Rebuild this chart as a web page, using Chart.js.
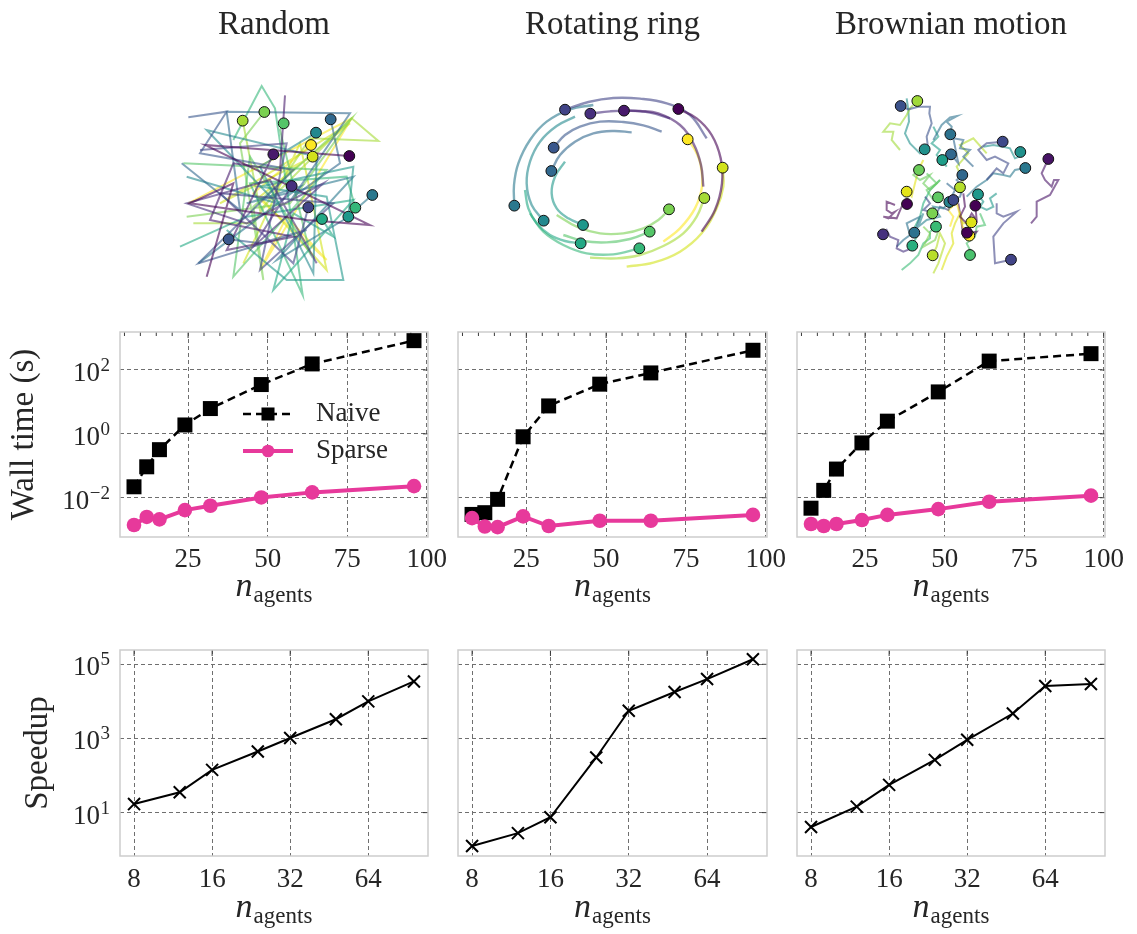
<!DOCTYPE html>
<html>
<head>
<meta charset="utf-8">
<script src="https://cdn.jsdelivr.net/npm/chart.js@4.4.1/dist/chart.umd.min.js"></script>
<style>
  body { margin: 0; background: #fff; }
  #fig { position: relative; width: 1137px; height: 934px; overflow: hidden; background: #fff; }
</style>
</head>
<body>
<div id="fig"></div>
<script>
// ---- data ----
const scenarios = ['Random', 'Rotating ring', 'Brownian motion'];
const nAgents = [8, 12, 16, 24, 32, 48, 64, 96];

const naiveRandom = [0.022, 0.093, 0.32, 1.9, 6.2, 35, 155, 830];
const sparseRandom = [0.0014, 0.0025, 0.0021, 0.0041, 0.0056, 0.0102, 0.0147, 0.023];
const naiveRing = [0.003, 0.0034, 0.0089, 0.81, 7.5, 36, 81, 415];
const sparseRing = [0.0023, 0.00125, 0.0012, 0.0026, 0.0013, 0.0019, 0.0019, 0.0029];
const naiveBrownian = [0.0047, 0.017, 0.079, 0.52, 2.5, 20.6, 190, 325];
const sparseBrownian = [0.0015, 0.0013, 0.0015, 0.0020, 0.0029, 0.0044, 0.0075, 0.0116];

const speedupRandom = [17, 35.5, 142, 445, 1030, 3300, 10000, 34500];
const speedupRing = [1.26, 2.8, 7.5, 307, 5600, 17900, 40000, 137000];
const speedupBrownian = [4.1, 14.5, 56, 265, 920, 4700, 26000, 29500];

const nTicksLinear = [25, 50, 75, 100];
const nMinorTop = [5, 10, 15, 20, 30, 35, 40, 45, 55, 60, 65, 70, 80, 85, 90, 95];
const nTicksLog = [8, 16, 32, 64];
const wallTicks = [1e-2, 1, 1e2];
const speedTicks = [1e1, 1e3, 1e5];

// agent tails (arena units), last point = current position
const viridis16 = ['#440154', '#481a6c', '#472f7d', '#414487', '#39568c', '#31688e', '#2a788e', '#23888e',
  '#1f988b', '#22a884', '#35b779', '#54c568', '#7ad151', '#a5db36', '#d2e21b', '#fde725'];

const randomPaths = [
  [[14, 62], [22, 34], [9, 40], [44, 45], [63, 46.5], [13.5, 22.5], [56.8, 25.8]],
  [[37.5, 7.6], [36, 30], [22, 28], [15, 45], [40, 50], [20, 54], [34, 25.3]],
  [[47, 58], [33, 33], [8, 40], [26, 46], [49, 34], [28, 53], [39.5, 34.8]],
  [[12, 24], [38, 22], [30, 60], [52, 40], [18, 37], [40, 58], [44.5, 41.2]],
  [[8.5, 14.2], [20, 12.5], [12, 25], [40, 30], [11.5, 58], [44, 48], [30, 52], [20.6, 50.8]],
  [[6.5, 28], [24, 42], [20, 12.5], [57, 13], [40, 38], [54, 28], [51.2, 14.8]],
  [[11.5, 58], [42, 35], [26, 40], [58, 32], [35, 57], [55, 45], [63.7, 37.5]],
  [[8, 32], [35, 40], [14, 18], [47, 26], [46, 61], [30, 29], [46.8, 18.8]],
  [[20, 48], [38, 63], [55, 63], [50, 38], [30, 35], [58, 29], [56.5, 44.0]],
  [[6, 53], [26, 44], [58, 39], [34, 66], [40, 43], [52, 50], [48.6, 44.7]],
  [[22, 21], [30.5, 4.8], [34.5, 11.5], [42.8, 67.5], [27, 34], [56, 32], [58.6, 41.3]],
  [[7, 28], [50, 30], [22, 62], [27, 26], [45, 55], [36, 18], [37.1, 16.0]],
  [[8, 44], [39, 40], [57.5, 14.5], [28, 41], [31, 63], [24, 22], [31.3, 12.6]],
  [[10, 46], [28, 46], [45, 20.5], [65.5, 21.3], [57.5, 14.5], [30, 42], [24.8, 15.2]],
  [[25, 58], [42, 22], [50, 60], [30, 38], [57, 16], [18, 40], [45.8, 26.0]],
  [[8.5, 40], [57.5, 14.5], [30, 60], [38, 44], [50, 57], [28, 37], [45.3, 22.5]]
];

const ringPaths = [
  [[63.5, 45.5], [67.5, 39], [69.6, 31], [69.2, 23.5], [66.5, 16.5], [62, 11.5], [56.5, 8.7]],
  [[64, 32], [63.3, 25.5], [61, 19], [57, 13.5], [50.5, 10], [45, 9.3], [40.2, 9.2]],
  [[54, 11.5], [48, 9.8], [42, 9.2], [36, 9.4], [30.1, 10.1]],
  [[65, 17.5], [60, 10.5], [53, 7], [45, 5.6], [37, 5.4], [29.5, 6.6], [22.5, 8.9]],
  [[51.5, 15.5], [46, 13.6], [40, 12.6], [33, 12.5], [27, 14], [22.5, 16.5], [19.1, 20.3]],
  [[42.5, 15.7], [37, 15.3], [31, 16], [25.5, 18.5], [21, 22.5], [18.4, 27.3]],
  [[31, 7.5], [24, 8.8], [17, 12.5], [12, 18], [8.5, 25], [7.2, 31.5], [7.3, 37.7]],
  [[25.5, 11], [20, 13.8], [15, 18.5], [12, 24.5], [11, 31], [12.5, 37.5], [16.1, 42.2]],
  [[22.5, 24.5], [19.5, 29], [18.5, 34], [20, 38.5], [23.5, 41.5], [27.9, 43.5]],
  [[10.5, 33], [11.5, 38.5], [14, 43], [18, 46.5], [22.5, 48.3], [27.2, 49.0]],
  [[12, 40], [16, 45.5], [22, 49.5], [29, 52], [37, 52.3], [44.8, 50.5]],
  [[22, 46.5], [28, 48.3], [35, 48.7], [42, 47.7], [47.9, 45.5]],
  [[20, 40.5], [26, 44], [33, 46], [40, 46], [46, 44.5], [50.5, 42], [53.7, 38.8]],
  [[30, 53.3], [38, 53.5], [45, 52.5], [52, 49.8], [58, 46], [62, 41], [64.3, 35.4]],
  [[41, 56], [49, 54.8], [57, 51.5], [63.5, 46], [68, 38.5], [70, 32], [69.8, 26.3]],
  [[52, 48.5], [57, 44.5], [61.5, 38.5], [63.6, 32], [63.2, 25.5], [61.5, 21], [59.3, 17.8]]
];

const brownianColors = ['#3b528b', '#a0da39', '#2c728e', '#21918c', '#31688e', '#1f9e89', '#3e4989', '#21918c',
  '#2a788e', '#471365', '#6ccd5a', '#31688e', '#b5de2b', '#e5e419', '#440154', '#5ec962', '#26828e', '#3e4989',
  '#1f988b', '#440154', '#7ad151', '#dde318', '#3bbb75', '#fde725', '#440154', '#46307e', '#2c728e', '#29af7f',
  '#b8de29', '#4ac16d', '#414487'];

const brownianPaths = [
  [[23.5, 21], [23, 17], [24.5, 13], [23.8, 10], [24, 8], [20.5, 8], [17.5, 8.8], [15.2, 7.8]],
  [[15, 21], [12.5, 18], [13, 15.5], [10, 15.5], [12, 13], [15, 13.5], [17, 10.5], [18, 8.5], [20.2, 6.3]],
  [[25, 18], [27.5, 13.5], [30, 11.2], [32.2, 10.8], [29, 12.5], [30.5, 14], [30.1, 16.3]],
  [[17, 5.5], [17.5, 9], [17.7, 12.5], [16.5, 16], [18, 19], [21, 22], [22.4, 20.8]],
  [[37, 26], [34, 23], [36, 21], [33, 20.5], [34, 18], [31, 17.5], [32.5, 25], [30.3, 22.3]],
  [[25, 14], [26.5, 17], [24.5, 19], [27, 21], [26, 22.5], [29, 26], [27.7, 24.0]],
  [[41, 30], [44, 26.5], [46, 28], [47.5, 25], [43.5, 23], [41, 24], [38.5, 21], [41, 19], [45.8, 18.5]],
  [[40, 20], [43, 19.5], [46, 20], [48, 20.5], [49.5, 23.5], [52, 22.5], [51.1, 21.6]],
  [[35, 35], [38, 32], [41, 30], [43, 28], [46, 28.5], [48, 29], [49.5, 27], [52.6, 26.4]],
  [[54.3, 43], [56, 41], [56, 36.5], [60, 34.5], [62.5, 30], [61.2, 30], [60.5, 32], [58.5, 30], [57.5, 28], [59.5, 23.7]],
  [[27, 30], [24, 33], [22, 31], [24, 28.5], [21, 30], [19, 28.5], [20.7, 27.0]],
  [[29, 31], [31.5, 33], [30, 36], [33, 35], [34, 32], [32, 30], [33.7, 28.5]],
  [[41, 22], [37, 17.5], [33, 19.5], [35.5, 22], [32, 26], [34, 30], [33.0, 32.2]],
  [[22, 24], [20.5, 27], [19.5, 31], [18.5, 35], [17, 33.5]],
  [[13.5, 37.5], [11, 36.5], [11, 39], [12.5, 40], [13.5, 39.5], [11.5, 41.5], [10, 41], [14, 41.5], [15.5, 38], [17.1, 37.2]],
  [[23, 28], [26, 31], [23, 33], [25, 36], [28, 34], [26.4, 35.2]],
  [[22, 40], [20.5, 44], [23, 42], [27, 41], [25, 38], [28, 38.5], [29.8, 36.6]],
  [[22.5, 35], [24, 37], [22, 39], [26, 40], [27, 38], [29.5, 39], [31.0, 36.0]],
  [[44, 34], [42, 35.5], [43, 38], [41, 39], [39, 38], [40, 36.5], [38.4, 34.3]],
  [[34, 34], [34.5, 38], [33, 41], [35, 43], [36.5, 40], [38, 42], [37.6, 37.7]],
  [[22, 44], [24, 46], [22, 50], [25.5, 48], [27, 44], [25.5, 43], [24.7, 40.0]],
  [[27.5, 57], [29, 53], [31, 49], [30.5, 46], [31.5, 43], [33, 40], [34, 43], [36.4, 42.7]],
  [[15.5, 57], [18, 55], [20.5, 52.5], [22, 49], [24, 47.5], [24, 45.5], [25.8, 44.0]],
  [[30, 44], [31, 41], [29.5, 39], [32, 37], [33, 40.5], [33.8, 44], [35.8, 46.7]],
  [[32.5, 37], [33, 40], [33.5, 43], [34, 47], [36, 48], [38, 45.5], [35.1, 45.8]],
  [[18.5, 50.5], [16, 51.5], [14, 50.5], [14.5, 48], [12, 47], [11, 45], [9.9, 46.3]],
  [[14, 50], [16, 48], [18, 46.5], [17, 43], [21, 41], [20, 44], [19.3, 45.8]],
  [[27, 30], [24, 33], [22, 37], [21, 41], [19.5, 44], [20, 47], [18.7, 49.7]],
  [[25, 58], [26.5, 55], [27.5, 52], [28.5, 49], [27, 46], [26, 50], [24.8, 52.6]],
  [[39, 40], [40.5, 43.5], [38, 44], [37.5, 47], [35, 49], [36, 51], [36.0, 52.5]],
  [[44, 37], [44, 40], [46, 41], [50, 39.5], [46, 43], [43, 47], [43.5, 55], [48.3, 53.9]]
];

// ---- style ----
const FONT = '"Liberation Serif", "Times New Roman", serif';
const TEXT = '#262626';
const GRID = '#6f6f6f';
const FRAME = '#cdcdcd';
const PINK = '#e7399b';

function fade(hex, a) {
  const n = parseInt(hex.slice(1), 16);
  return `rgba(${n >> 16},${(n >> 8) & 255},${n & 255},${a})`;
}

function expLabel(v) {
  const e = Math.round(Math.log10(v));
  return e < 0 ? '\u2212' + (-e) : String(e);
}

// frame, inward ticks and all text for one panel
const decor = {
  id: 'decor',
  beforeDatasetsDraw(chart, args, o) {
    if (!o.frame) return;
    const { ctx, chartArea: a, scales: { x, y } } = chart;
    ctx.save();
    ctx.strokeStyle = '#3a3a3a';
    ctx.lineWidth = 1;
    const seg = (x0, y0, x1, y1) => { ctx.beginPath(); ctx.moveTo(x0, y0); ctx.lineTo(x1, y1); ctx.stroke(); };
    (o.minorTop || []).forEach(v => { const px = x.getPixelForValue(v); seg(px, a.top, px, a.top + 4); });
    o.xTicks.forEach(v => { const px = x.getPixelForValue(v); seg(px, a.top, px, a.top + 6); });
    o.yTicks.forEach(v => { const py = y.getPixelForValue(v); seg(a.right - 5, py, a.right, py); });
    ctx.strokeStyle = FRAME;
    ctx.lineWidth = 1.5;
    ctx.strokeRect(a.left, a.top, a.right - a.left, a.bottom - a.top);
    ctx.restore();
  },
  afterDraw(chart, args, o) {
    const { ctx, chartArea: a, scales: { x, y } } = chart;
    ctx.save();
    ctx.fillStyle = TEXT;
    ctx.textBaseline = 'alphabetic';

    if (o.title) {
      ctx.font = `33px ${FONT}`;
      ctx.textAlign = 'center';
      ctx.fillText(o.title, chart.width / 2, o.titleY);
    }
    if (o.xTicks) {
      ctx.font = `27px ${FONT}`;
      ctx.textAlign = 'center';
      o.xTicks.forEach(v => ctx.fillText(String(v), x.getPixelForValue(v), a.bottom + o.xLabelDy));
    }
    if (o.yLabels) {
      const right = a.left - 10;
      o.yTicks.forEach(v => {
        const py = y.getPixelForValue(v) + 11;
        const e = expLabel(v);
        ctx.font = `19px ${FONT}`;
        const ew = ctx.measureText(e).width;
        ctx.textAlign = 'left';
        ctx.fillText(e, right - ew, py - 10);
        ctx.font = `27px ${FONT}`;
        ctx.textAlign = 'right';
        ctx.fillText('10', right - ew - 0.5, py);
      });
    }
    if (o.yTitle) {
      ctx.save();
      ctx.translate(o.yTitleX, (a.top + a.bottom) / 2);
      ctx.rotate(-Math.PI / 2);
      ctx.font = `33px ${FONT}`;
      ctx.textAlign = 'center';
      ctx.fillText(o.yTitle, 0, 0);
      ctx.restore();
    }
    if (o.xTitle) {
      const base = a.bottom + o.xTitleDy;
      ctx.font = `italic 34px ${FONT}`;
      const nw = ctx.measureText('n').width;
      ctx.font = `23px ${FONT}`;
      const sw = ctx.measureText('agents').width;
      const x0 = (a.left + a.right) / 2 - (nw + sw + 1) / 2;
      ctx.textAlign = 'left';
      ctx.font = `italic 34px ${FONT}`;
      ctx.fillText('n', x0, base);
      ctx.font = `23px ${FONT}`;
      ctx.fillText('agents', x0 + nw + 1, base + 6);
    }
    if (o.legend) {
      // legend entries mirror the line datasets' own styles
      const L = o.legend;
      chart.data.datasets.forEach((ds, i) => {
        const ly = a.top + L.dy + i * L.gap;
        const lx = a.left + L.dx;
        ctx.save();
        ctx.strokeStyle = ds.borderColor;
        ctx.lineWidth = ds.borderWidth;
        ctx.setLineDash(ds.borderDash || []);
        ctx.beginPath();
        ctx.moveTo(lx, ly);
        ctx.lineTo(lx + L.len, ly);
        ctx.stroke();
        ctx.setLineDash([]);
        ctx.fillStyle = ds.backgroundColor;
        Chart.helpers.drawPoint(ctx, { pointStyle: ds.pointStyle, radius: ds.pointRadius * 0.87, rotation: 0, borderWidth: 0 }, lx + L.len / 2, ly);
        ctx.restore();
        ctx.font = `27px ${FONT}`;
        ctx.textAlign = 'left';
        ctx.textBaseline = 'middle';
        ctx.fillText(ds.label, lx + L.textDx, ly);
        ctx.textBaseline = 'alphabetic';
      });
    }
    ctx.restore();
  }
};

// canvas whose chart area lands exactly on box (page coordinates)
function place(box, pad) {
  const c = document.createElement('canvas');
  const w = box.r - box.l + pad.l + pad.r;
  const h = box.b - box.t + pad.t + pad.b;
  c.width = w;
  c.height = h;
  c.style.cssText = `position:absolute;left:${box.l - pad.l}px;top:${box.t - pad.t}px;width:${w}px;height:${h}px;`;
  document.getElementById('fig').appendChild(c);
  return c;
}

function axis(type, min, max, ticks, fit) {
  return {
    type, min, max,
    afterBuildTicks: s => { s.ticks = ticks.map(v => ({ value: v })); },
    afterFit: fit,
    ticks: { display: false },
    grid: { color: GRID, lineWidth: 1, drawTicks: false },
    border: { display: false, dash: [4, 3] }
  };
}

function baseOptions(pad, scales, decorOpts) {
  return {
    responsive: false,
    animation: false,
    events: [],
    layout: { autoPadding: false, padding: { left: 0, top: pad.t, right: pad.r, bottom: 0 } },
    scales,
    plugins: { legend: { display: false }, tooltip: { enabled: false }, decor: decorOpts }
  };
}

function timePanel(box, pad, naive, sparse, extra) {
  const canvas = place(box, pad);
  new Chart(canvas, {
    type: 'line',
    data: {
      datasets: [
        {
          label: 'Naive', data: nAgents.map((n, i) => ({ x: n, y: naive[i] })),
          borderColor: '#000', backgroundColor: '#000', borderWidth: 2.5, borderDash: [8, 5],
          pointStyle: 'rect', pointRadius: 10.6, pointBorderWidth: 0, order: 1, clip: false
        },
        {
          label: 'Sparse', data: nAgents.map((n, i) => ({ x: n, y: sparse[i] })),
          borderColor: PINK, backgroundColor: PINK, borderWidth: 4,
          pointStyle: 'circle', pointRadius: 7.3, pointBorderWidth: 0, order: 0, clip: false
        }
      ]
    },
    options: baseOptions(pad, {
      x: axis('linear', 3.6, 100.4, nTicksLinear, s => { s.height = pad.b; }),
      y: axis('logarithmic', Math.pow(10, -3.23), Math.pow(10, 3.19), wallTicks, s => { s.width = pad.l; })
    }, Object.assign({
      frame: true, xTicks: nTicksLinear, minorTop: nMinorTop, yTicks: wallTicks,
      xLabelDy: 30, xTitle: true, xTitleDy: 59
    }, extra)),
    plugins: [decor]
  });
}

function speedPanel(box, pad, speed, extra) {
  const canvas = place(box, pad);
  new Chart(canvas, {
    type: 'line',
    data: {
      datasets: [{
        label: 'Speedup', data: nAgents.map((n, i) => ({ x: n, y: speed[i] })),
        borderColor: '#000', backgroundColor: '#000', borderWidth: 2,
        pointStyle: 'crossRot', pointRadius: 8.5, pointBorderWidth: 2, pointBorderColor: '#000', clip: false
      }]
    },
    options: baseOptions(pad, {
      x: axis('logarithmic', Math.pow(2, 2.82), Math.pow(2, 6.765), nTicksLog, s => { s.height = pad.b; }),
      y: axis('logarithmic', Math.pow(10, -0.17), Math.pow(10, 5.386), speedTicks, s => { s.width = pad.l; })
    }, Object.assign({
      frame: true, xTicks: nTicksLog, yTicks: speedTicks,
      xLabelDy: 31, xTitle: true, xTitleDy: 61
    }, extra)),
    plugins: [decor]
  });
}

// agent tails as fading polylines, current positions as ringed dots on top
function trajChart(box, pad, paths, colors, lim, look, title) {
  const canvas = place(box, pad);
  const datasets = paths.map((p, i) => ({
    data: p.map(([x, y]) => ({ x, y })),
    showLine: true, borderColor: fade(colors[i], look.alpha), borderWidth: look.width,
    tension: look.tension, pointRadius: 0, order: 1, clip: false
  }));
  datasets.push({
    data: paths.map(p => ({ x: p[p.length - 1][0], y: p[p.length - 1][1] })),
    showLine: false, pointRadius: 5.4, pointBackgroundColor: colors,
    pointBorderColor: '#111', pointBorderWidth: 1, order: 0, clip: false
  });
  new Chart(canvas, {
    type: 'scatter',
    data: { datasets },
    options: {
      responsive: false,
      animation: false,
      events: [],
      layout: { autoPadding: false, padding: { left: pad.l, top: pad.t, right: pad.r, bottom: pad.b } },
      scales: {
        x: { type: 'linear', display: false, min: 0, max: lim.x },
        y: { type: 'linear', display: false, min: 0, max: lim.y, reverse: true }
      },
      plugins: { legend: { display: false }, tooltip: { enabled: false }, decor: { title, titleY: 34 } }
    },
    plugins: [decor]
  });
}

// ---- top row: trajectories ----
trajChart({ l: 160, t: 70, r: 400, b: 310 }, { l: 40, r: 28, t: 70, b: 0 }, randomPaths, viridis16,
  { x: 72, y: 72 }, { alpha: 0.6, width: 2, tension: 0 }, scenarios[0]);
trajChart({ l: 490, t: 80, r: 750, b: 280 }, { l: 32, r: 17, t: 80, b: 0 }, ringPaths, viridis16,
  { x: 78, y: 60 }, { alpha: 0.6, width: 2.4, tension: 0.4 }, scenarios[1]);
trajChart({ l: 850, t: 80, r: 1070, b: 280 }, { l: 53, r: 35, t: 80, b: 0 }, brownianPaths, brownianColors,
  { x: 66, y: 60 }, { alpha: 0.6, width: 2, tension: 0 }, scenarios[2]);

// ---- middle row: wall time ----
timePanel({ l: 120, t: 332, r: 428, b: 537 }, { l: 120, r: 30, t: 32, b: 75 }, naiveRandom, sparseRandom, {
  yLabels: true, yTitle: 'Wall time (s)', yTitleX: 33,
  legend: { dx: 123, dy: 82, gap: 37, len: 50, textDx: 73 }
});
timePanel({ l: 458, t: 332, r: 767, b: 537 }, { l: 20, r: 30, t: 32, b: 75 }, naiveRing, sparseRing, {});
timePanel({ l: 797, t: 332, r: 1105, b: 537 }, { l: 20, r: 30, t: 32, b: 75 }, naiveBrownian, sparseBrownian, {});

// ---- bottom row: speedup ----
speedPanel({ l: 120, t: 650, r: 428, b: 856 }, { l: 120, r: 30, t: 20, b: 78 }, speedupRandom, {
  yLabels: true, yTitle: 'Speedup', yTitleX: 47
});
speedPanel({ l: 458, t: 650, r: 767, b: 856 }, { l: 20, r: 30, t: 20, b: 78 }, speedupRing, {});
speedPanel({ l: 797, t: 650, r: 1105, b: 856 }, { l: 20, r: 30, t: 20, b: 78 }, speedupBrownian, {});
</script>
</body>
</html>
